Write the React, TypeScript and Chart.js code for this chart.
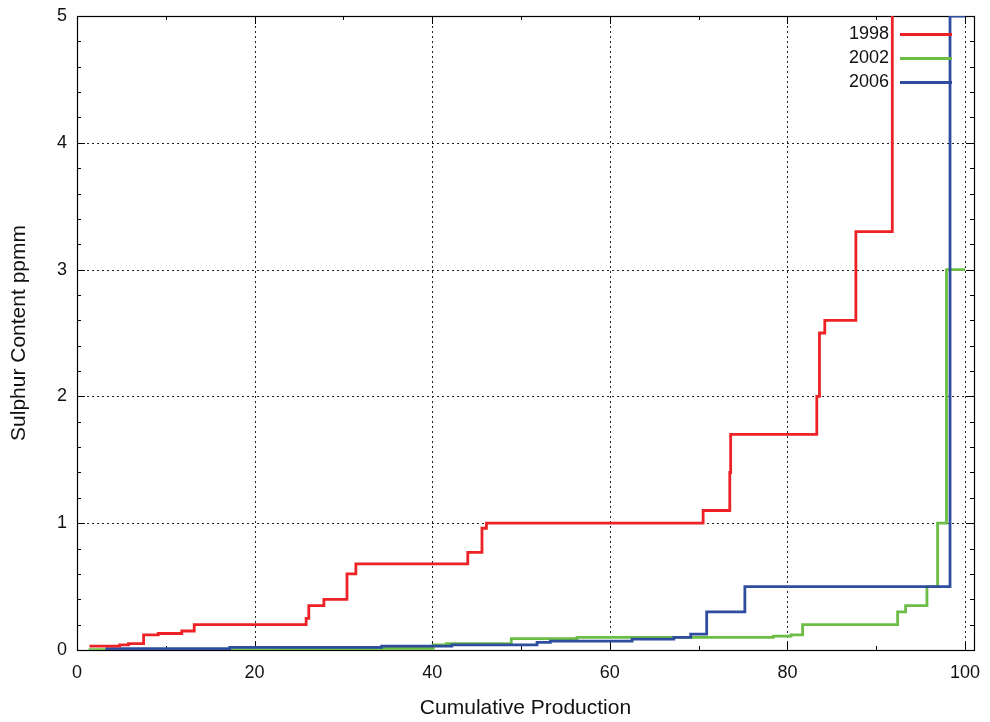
import React, { useEffect, useRef } from 'react';
import { Chart, registerables } from 'chart.js';

Chart.register(...registerables);

// ---- data ----
const seriesNames = ['1998', '2002', '2006'];

const x1998 = [1.4, 4.8, 5.8, 7.5, 9.15, 11.8, 13.2, 25.8, 26.1, 27.8, 30.4, 31.4, 44.0, 45.6, 46.1, 70.5, 73.5, 73.6, 83.3, 83.6, 84.2, 87.7, 91.8];
const y1998 = [0.03, 0.04, 0.05, 0.12, 0.13, 0.15, 0.2, 0.25, 0.35, 0.4, 0.6, 0.68, 0.77, 0.96, 1.0, 1.1, 1.4, 1.7, 2.0, 2.5, 2.6, 3.3, 10];

const x2002 = [1.3, 22.8, 34.0, 40.1, 41.6, 48.9, 56.3, 78.4, 80.4, 81.7, 92.4, 93.3, 95.7, 96.9, 97.9, 100];
const y2002 = [0.003, 0.006, 0.012, 0.04, 0.05, 0.09, 0.1, 0.11, 0.12, 0.2, 0.3, 0.35, 0.5, 1.0, 3.0, 3.0];

const x2006 = [3.2, 17.2, 34.3, 42.2, 51.8, 53.3, 62.5, 67.2, 69.1, 70.9, 75.2, 98.3, 100];
const y2006 = [0.01, 0.02, 0.03, 0.04, 0.06, 0.07, 0.085, 0.1, 0.125, 0.3, 0.5, 5, 5];

const xTickValues = [0, 20, 40, 60, 80, 100];
const yTickValues = [0, 1, 2, 3, 4, 5];

const colors = ['#ec2227', '#6cbd45', '#2e4d9e'];

const FONT = '"Liberation Sans", Arial, Helvetica, sans-serif';

const toPts = (xs: number[], ys: number[]) => xs.map((x, i) => ({ x, y: ys[i] }));

const framePlugin = {
  id: 'frame',
  beforeDatasetsDraw(chart: any) {
    const { ctx, chartArea: a, scales } = chart;
    const xs = scales.x;
    const ys = scales.y;
    ctx.save();
    // dotted grid
    ctx.strokeStyle = '#222';
    ctx.lineWidth = 1;
    ctx.setLineDash([2, 3]);
    for (const v of [20, 40, 60, 80, 100]) {
      const px = Math.round(xs.getPixelForValue(v)) + 0.5;
      ctx.beginPath();
      ctx.moveTo(px, a.top);
      ctx.lineTo(px, a.bottom);
      ctx.stroke();
    }
    for (const v of [1, 2, 3, 4]) {
      const py = Math.round(ys.getPixelForValue(v)) + 0.5;
      ctx.beginPath();
      ctx.moveTo(a.left, py);
      ctx.lineTo(a.right, py);
      ctx.stroke();
    }
    ctx.setLineDash([]);
    // ticks
    ctx.strokeStyle = '#000';
    for (let v = 0; v <= 100; v += 10) {
      const len = v % 20 === 0 ? 8 : 4;
      const px = Math.round(xs.getPixelForValue(v)) + 0.5;
      ctx.beginPath();
      ctx.moveTo(px, a.bottom);
      ctx.lineTo(px, a.bottom - len);
      ctx.moveTo(px, a.top);
      ctx.lineTo(px, a.top + len);
      ctx.stroke();
    }
    for (let i = 0; i <= 25; i++) {
      const v = i * 0.2;
      const len = i % 5 === 0 ? 8 : 4;
      const py = Math.round(ys.getPixelForValue(v)) + 0.5;
      ctx.beginPath();
      ctx.moveTo(a.left, py);
      ctx.lineTo(a.left + len, py);
      ctx.moveTo(a.right, py);
      ctx.lineTo(a.right - len, py);
      ctx.stroke();
    }
    // border
    ctx.lineWidth = 1.2;
    ctx.strokeRect(Math.round(a.left) + 0.5, Math.round(a.top) + 0.5, Math.round(a.right - a.left), Math.round(a.bottom - a.top));
    ctx.restore();
  },
  afterDraw(chart: any) {
    const { ctx } = chart;
    ctx.save();
    ctx.font = `18px ${FONT}`;
    ctx.textAlign = 'right';
    ctx.textBaseline = 'middle';
    const ys = [34, 58, 82];
    seriesNames.forEach((name, i) => {
      ctx.fillStyle = '#111';
      ctx.fillText(name, 889, ys[i]);
      ctx.strokeStyle = colors[i];
      ctx.lineWidth = 2.8;
      ctx.beginPath();
      ctx.moveTo(900, ys[i] + 0.5);
      ctx.lineTo(952, ys[i] + 0.5);
      ctx.stroke();
    });
    ctx.restore();
  },
};

export default function App() {
  const ref = useRef<HTMLCanvasElement | null>(null);
  useEffect(() => {
    if (!ref.current) return;
    Chart.defaults.font.family = FONT;
    const chart = new Chart(ref.current, {
      type: 'line',
      data: {
        datasets: [
          { label: seriesNames[0], data: toPts(x1998, y1998), borderColor: colors[0], order: 0 },
          { label: seriesNames[1], data: toPts(x2002, y2002), borderColor: colors[1], order: 2 },
          { label: seriesNames[2], data: toPts(x2006, y2006), borderColor: colors[2], order: 1 },
        ].map((d) => ({ ...d, stepped: true, borderWidth: 2.8, pointRadius: 0, fill: false, backgroundColor: d.borderColor })),
      },
      options: {
        animation: false,
        responsive: false,
        layout: { padding: { left: 0, top: 16, right: 16, bottom: 0 } },
        plugins: { legend: { display: false }, tooltip: { enabled: false } },
        scales: {
          x: {
            type: 'linear',
            min: 0,
            max: 101,
            grid: { display: false },
            border: { display: false },
            afterBuildTicks: (s: any) => { s.ticks = xTickValues.map((v) => ({ value: v })); },
            afterFit: (s: any) => { s.height = 72; s.paddingLeft = 0; s.paddingRight = 0; },
            ticks: { color: '#111', font: { size: 18, family: FONT }, padding: 4, maxRotation: 0 },
            title: { display: true, text: 'Cumulative Production', color: '#111', font: { size: 21, family: FONT }, padding: { top: 0, bottom: 1 } },
          },
          y: {
            type: 'linear',
            min: 0,
            max: 5,
            grid: { display: false },
            border: { display: false },
            afterBuildTicks: (s: any) => { s.ticks = yTickValues.map((v) => ({ value: v })); },
            afterFit: (s: any) => { s.width = 77; s.paddingTop = 0; s.paddingBottom = 0; },
            ticks: { color: '#111', font: { size: 18, family: FONT }, padding: 2 },
            title: { display: true, text: 'Sulphur Content ppmm', color: '#111', font: { size: 21, family: FONT }, padding: { top: 7, bottom: 0 } },
          },
        },
      },
      plugins: [framePlugin],
    } as any);
    return () => chart.destroy();
  }, []);
  return (
    <div style={{ position: 'fixed', left: 0, top: 0, width: 990, height: 722, background: '#fff' }}>
      <canvas ref={ref} width={990} height={722} style={{ display: 'block', width: 990, height: 722 }} />
    </div>
  );
}
